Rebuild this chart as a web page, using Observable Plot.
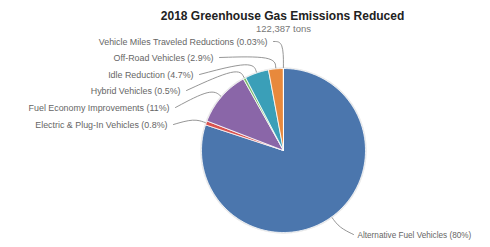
<!DOCTYPE html>
<html>
<head>
<meta charset="utf-8">
<script src="https://cdn.jsdelivr.net/npm/d3@7"></script>
<script src="https://cdn.jsdelivr.net/npm/@observablehq/plot@0.6"></script>
<style>
  html, body { margin: 0; padding: 0; background: #fff; }
  #chart svg { display: block; }
</style>
</head>
<body>
<div id="chart"></div>
<script>
// ---- data ----
const categories = [
  "Alternative Fuel Vehicles",
  "Electric & Plug-In Vehicles",
  "Fuel Economy Improvements",
  "Hybrid Vehicles",
  "Idle Reduction",
  "Off-Road Vehicles",
  "Vehicle Miles Traveled Reductions"
];
const shares = [80, 0.8, 11, 0.5, 4.7, 2.9, 0.03];
const shareLabels = ["80%", "0.8%", "11%", "0.5%", "4.7%", "2.9%", "0.03%"];
const titleText = "2018 Greenhouse Gas Emissions Reduced";
const subtitleText = "122,387 tons";

// ---- layout / style ----
const colors = ["#4b76ad", "#d9534f", "#8a66a8", "#7dbb6f", "#3a9fb8", "#e8893c", "#b5b5b5"];
const cx = 283, cy = 150, R = 82;
const labelPos = [
  {x: 357, y: 237, anchor: "start", size: 8.2},
  {x: 167, y: 127, anchor: "end", size: 8.9},
  {x: 169, y: 110, anchor: "end", size: 8.9},
  {x: 180, y: 93, anchor: "end", size: 8.9},
  {x: 193, y: 77, anchor: "end", size: 8.9},
  {x: 213, y: 60, anchor: "end", size: 8.9},
  {x: 267, y: 44, anchor: "end", size: 8.9}
];

const pie = d3.pie().sort(null).value(d => d.value)(
  categories.map((c, i) => ({name: c, value: shares[i], i}))
);

function pt(theta, r) {
  return {x: cx + r * Math.sin(theta), y: cy - r * Math.cos(theta)};
}

const sliceMarks = pie.map(a => {
  const pts = [{x: cx, y: cy}];
  const n = Math.max(2, Math.ceil((a.endAngle - a.startAngle) / (Math.PI / 180)));
  for (let k = 0; k <= n; k++) {
    const t = a.startAngle + (a.endAngle - a.startAngle) * k / n;
    pts.push(pt(t, R));
  }
  pts.push({x: cx, y: cy});
  return Plot.line(pts, {x: "x", y: "y", fill: colors[a.data.i], stroke: "#fff", strokeWidth: 0.8, curve: "linear"});
});

const leaders = [];
pie.forEach(a => {
  const i = a.data.i;
  const mid = (a.startAngle + a.endAngle) / 2;
  const edge = pt(mid, R + 1);
  const outer = pt(mid, R * 1.16);
  const lp = labelPos[i];
  let start, elbow;
  if (lp.anchor === "end") {
    start = {x: lp.x + 6, y: lp.y - 3};
    elbow = {x: outer.x, y: Math.min(outer.y, start.y)};
    [start, elbow, edge].forEach(p => leaders.push({...p, i}));
  } else {
    start = {x: lp.x - 4, y: lp.y - 3};
    elbow = {x: outer.x, y: outer.y};
    [edge, elbow, start].forEach(p => leaders.push({...p, i}));
  }
});

const labels = categories.map((c, i) => ({
  text: `${c} (${shareLabels[i]})`,
  x: labelPos[i].x, y: labelPos[i].y, anchor: labelPos[i].anchor, size: labelPos[i].size
}));

const plot = Plot.plot({
  width: 490,
  height: 247,
  margin: 0,
  style: {fontFamily: "Liberation Sans, Arial, sans-serif", background: "#fff"},
  x: {domain: [0, 490], range: [0, 490], axis: null},
  y: {domain: [0, 247], range: [0, 247], axis: null},
  marks: [
    Plot.dot([{x: cx, y: cy}], {x: "x", y: "y", r: R + 1.2, fill: "#e6e6e6", stroke: "none"}),
    ...sliceMarks,
    Plot.line(leaders, {x: "x", y: "y", z: "i", stroke: "#8a8a8a", strokeWidth: 0.9, curve: "basis"}),
    Plot.text(labels.filter(d => d.anchor === "end"), {x: "x", y: "y", text: "text", textAnchor: "end", fontSize: 8.9, fill: "#666", lineAnchor: "bottom"}),
    Plot.text(labels.filter(d => d.anchor === "start"), {x: "x", y: "y", text: "text", textAnchor: "start", fontSize: 8.2, fill: "#666", lineAnchor: "bottom"}),
    Plot.text([titleText], {x: () => 282, y: () => 19, text: d => d, fontSize: 12, fontWeight: "bold", fill: "#222", lineAnchor: "bottom"}),
    Plot.text([subtitleText], {x: () => 283, y: () => 31, text: d => d, fontSize: 9.5, fill: "#777", lineAnchor: "bottom"})
  ]
});
document.getElementById("chart").appendChild(plot);
</script>
</body>
</html>
